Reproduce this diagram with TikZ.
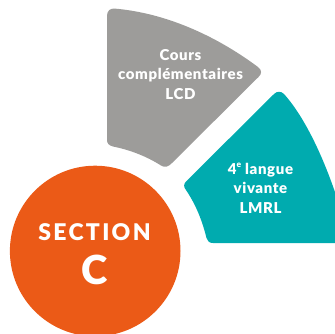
\documentclass[tikz,border=0pt]{standalone}
\usepackage{fontspec}
\setmainfont{Lato}
\newfontfamily\labfont[LetterSpace=4]{Lato Black}
\newfontfamily\secfont[LetterSpace=10]{Lato Black}
\newfontfamily\cfont{Lato Black}
\definecolor{grayc}{HTML}{9D9C9A}
\definecolor{tealc}{HTML}{00ABAF}
\definecolor{orangec}{HTML}{EB5A17}
\tikzset{
  lab/.style={text=white,font=\labfont\fontsize{15}{19.4}\selectfont,align=center,inner sep=0pt},
  sec/.style={text=white,inner sep=0pt}
}
\begin{document}
\begin{tikzpicture}[x=1pt,y=-1pt]
\useasboundingbox (0,0) rectangle (335,333);
\begin{scope}
\clip (0,0) rectangle (335,333);
\fill[orangec] (95.2,251) circle[radius=85.3];
% grey sector
\fill[grayc] (107,16) .. controls (107,11) and (110,8) .. (115,8.6)
  .. controls (165,13) and (215,35) .. (258,67)
  .. controls (262,70) and (262,74) .. (258.5,77)
  -- (172,163)
  .. controls (168,167) and (165,168) .. (161,165.5)
  .. controls (146,156) and (130,150) .. (113,146.5)
  .. controls (109,145.5) and (107,143.5) .. (107,140) -- cycle;
% teal sector
\fill[tealc] (274,94) .. controls (277,91) and (281,91) .. (284,94)
  .. controls (302,114) and (321,150) .. (337,198)
  -- (337,243) -- (213,243)
  .. controls (209,243) and (207.5,241) .. (206.5,238)
  .. controls (202,220) and (196,205) .. (186,190)
  .. controls (183.5,187) and (183.5,184) .. (186,181.5) -- cycle;
\end{scope}
\node[lab] (lcd) at (180.5,74.5) {Cours\\compl\'ementaires\\LCD};
\node[lab] (lmrl) at (260.5,188) {4{\raisebox{0.42em}{\fontsize{8.5}{8.5}\selectfont e}} langue\\vivante\\LMRL};
\node[sec,font=\secfont\fontsize{23}{23}\selectfont,text width=130pt,align=center] (section) at (94.5,232) {SECTION};
\node[sec,font=\cfont\fontsize{40}{40}\selectfont] (c) at (95,270) {C};
\end{tikzpicture}
\end{document}
